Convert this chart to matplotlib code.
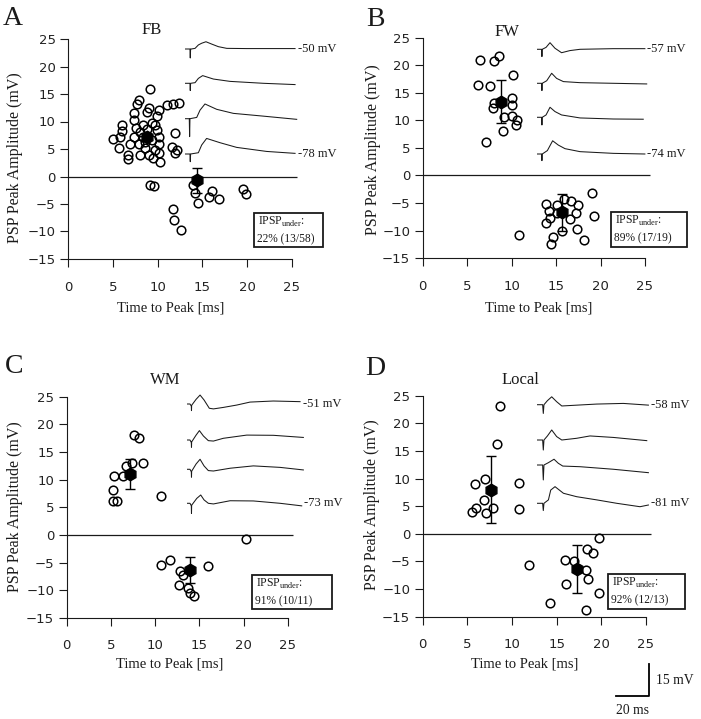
import matplotlib
matplotlib.use("Agg")
import matplotlib.pyplot as plt
from matplotlib.patches import Rectangle

W, H = 701, 719
SERIF = "Liberation Serif"
SANS = "DejaVu Sans"
INK = "#1a1a1a"
plt.rcParams["mathtext.fontset"] = "custom"
plt.rcParams["mathtext.rm"] = SERIF

# ── Scatter data: time to peak (ms) / PSP peak amplitude (mV) ─────────────

A_EPSP_T = [9.15, 7.92, 7.74, 9.08, 10.16, 11.0, 11.7, 12.4, 8.85, 7.37, 7.37, 9.9,
            6.06, 6.06, 8.33, 9.34, 5.8, 4.98, 7.37, 8.04, 8.85, 9.9, 10.16, 7.96,
            8.6, 9.34, 10.16, 5.73, 6.66, 6.73, 8.04, 8.6, 9.08, 9.71, 10.2, 10.27,
            9.52, 11.94, 11.57, 12.13, 11.94, 7.55, 6.92, 8.41, 9.71]
A_EPSP_A = [16.0, 13.9, 13.2, 12.4, 12.1, 13.0, 13.2, 13.3, 11.8, 11.5, 10.3, 11.0,
            9.4, 8.3, 9.4, 9.8, 7.2, 6.8, 7.2, 8.1, 8.6, 8.5, 7.2, 6.0,
            6.3, 6.6, 5.9, 5.1, 4.0, 3.2, 3.9, 5.1, 3.9, 4.8, 4.3, 2.7,
            3.3, 7.9, 5.4, 4.8, 4.2, 8.8, 6.0, 7.2, 9.4]
A_IPSP_T = [9.1, 9.6, 11.7, 11.8, 12.6, 14.0, 14.2, 14.5, 15.7, 16.1, 16.9, 19.5, 19.9]
A_IPSP_A = [-1.6, -1.7, -5.9, -7.9, -9.8, -1.5, -3.0, -4.8, -3.8, -2.6, -4.1, -2.3, -3.2]
A_MEAN_T = [8.8, 14.4]
A_MEAN_A = [7.1, -0.7]
A_MEAN_ERR = [0.5, 2.3]

B_EPSP_T = [6.4, 8.0, 8.6, 10.2, 6.2, 7.6, 8.0, 7.9, 10.1, 10.0, 9.1, 10.0, 10.6, 10.5, 9.0, 7.1]
B_EPSP_A = [20.9, 20.7, 21.7, 18.3, 16.5, 16.3, 13.2, 12.2, 14.1, 12.8, 10.6, 10.7, 10.0, 9.1, 8.1, 6.0]
B_IPSP_T = [13.83, 14.2, 14.3, 13.83, 15.07, 15.9, 16.7, 17.5, 17.2, 16.6, 15.1, 19.0,
            19.27, 17.4, 18.2, 15.7, 14.7, 14.4, 10.83]
B_IPSP_A = [-5.2, -6.4, -7.8, -8.7, -5.4, -4.3, -4.6, -5.4, -6.9, -7.9, -6.9, -3.1,
            -7.4, -9.7, -11.7, -10.0, -11.1, -12.4, -10.8]
B_MEAN_T = [8.8, 15.7]
B_MEAN_A = [13.4, -6.7]
B_MEAN_ERR = [3.9, 3.3]

C_EPSP_T = [7.6, 8.2, 6.7, 7.4, 8.6, 5.3, 6.4, 5.2, 5.2, 5.7, 10.7]
C_EPSP_A = [18.1, 17.5, 12.5, 13.0, 13.0, 10.6, 10.6, 8.1, 6.2, 6.1, 7.1]
C_IPSP_T = [10.6, 11.7, 12.8, 13.1, 12.7, 13.7, 13.9, 14.4, 16.0, 20.3]
C_IPSP_A = [-5.4, -4.5, -6.6, -7.2, -9.0, -9.6, -10.5, -11.0, -5.6, -0.7]
C_MEAN_T = [7.1, 13.9]
C_MEAN_A = [11.0, -6.3]
C_MEAN_ERR = [2.65, 2.35]

D_EPSP_T = [8.7, 8.3, 5.9, 7.0, 6.9, 6.0, 5.5, 7.1, 7.9, 10.8, 10.8]
D_EPSP_A = [23.1, 16.2, 9.0, 10.0, 6.1, 4.6, 4.0, 3.7, 4.7, 9.2, 4.5]
D_IPSP_T = [11.9, 15.9, 16.9, 18.4, 19.1, 19.7, 18.3, 18.5, 16.1, 19.7, 14.3, 18.3]
D_IPSP_A = [-5.6, -4.7, -4.9, -2.8, -3.4, -0.8, -6.5, -8.2, -9.0, -10.8, -12.5, -13.8]
D_MEAN_T = [7.6, 17.3]
D_MEAN_A = [8.0, -6.4]
D_MEAN_ERR = [6.1, 4.35]

LETTERS = ["A", "B", "C", "D"]
TITLES = ["FB", "FW", "WM", "Local"]
IPSP_SHARE = ["22% (13/58)", "89% (17/19)", "91% (10/11)", "92% (12/13)"]
TOP_MV = ["-50 mV", "-57 mV", "-51 mV", "-58 mV"]
BOTTOM_MV = ["-78 mV", "-74 mV", "-73 mV", "-81 mV"]

# ── Example traces: time (ms) / voltage relative to baseline (mV) ─────────

A_TR_T = [[0, 3.0, 3.2, 3.4, 3.8, 6.1, 8.1, 10.1, 12.7, 16.2, 20.2, 25.3, 37.4, 66.7],
          [0, 3.0, 3.2, 3.4, 6.1, 8.1, 10.7, 17.2, 27.3, 47.5, 66.7],
          [0, 2.6, 2.8, 3.0, 7.1, 9.1, 12.1, 19.2, 29.3, 47.5, 67.7],
          [0, 3.0, 3.2, 3.4, 8.1, 10.1, 13.1, 21.2, 31.3, 49.5, 66.7]]
A_TR_V = [[0, 0, -4.2, 0, 0, 0.3, 1.9, 2.7, 3.4, 2.3, 1.1, 0.3, 0.2, 0.2],
          [0, 0, -3.4, 0, 0.3, 2.3, 3.6, 2.0, 0.9, 0, -0.6],
          [0, 0, -8.4, 0, 0.6, 4.0, 6.9, 4.4, 2.5, 1.2, -0.3],
          [0, 0, -3.6, 0, 0.6, 4.2, 7.3, 5.3, 3.1, 1.2, 0.3]]

B_TR_T = [[0, 2.6, 2.8, 3.0, 5.3, 7.7, 10.7, 14.7, 19.8, 25.9, 46.1, 65.2],
          [0, 2.6, 2.8, 3.0, 5.7, 8.7, 11.7, 15.8, 25.9, 46.1, 66.3],
          [0, 2.6, 2.8, 3.0, 5.3, 7.7, 10.7, 14.7, 25.9, 46.1, 64.2],
          [0, 2.6, 2.8, 3.0, 6.1, 9.3, 12.7, 16.8, 25.9, 46.1, 65.2]]
B_TR_V = [[0, 0, -3.4, 0, 0.9, 3.1, 0.5, -1.6, -0.6, 0, 0.3, 0.3],
          [0, 0, -3.4, 0, 1.2, 4.7, 2.3, 0.8, 0.3, 0, -0.3],
          [0, 0, -3.6, 0, 1.1, 4.7, 2.7, 1.1, -0.3, -0.8, -0.9],
          [0, 0, -3.1, 0, 1.6, 6.2, 4.2, 2.5, 1.1, 0.3, 0]]

C_TR_T = [[0, 2.0, 2.8, 2.9, 3.0, 5.7, 8.1, 10.5, 13.7, 16.2, 22.2, 30.3, 38.4, 52.5, 68.7],
          [0, 2.0, 2.8, 2.9, 3.0, 5.7, 7.7, 10.1, 13.1, 16.2, 22.2, 36.4, 52.5, 70.7],
          [0, 2.0, 2.8, 2.9, 3.0, 5.7, 8.1, 10.5, 13.1, 16.2, 26.3, 40.4, 56.6, 70.7],
          [0, 2.0, 2.8, 2.9, 3.0, 6.1, 8.5, 10.5, 13.1, 16.2, 26.3, 40.4, 56.6, 69.7]]
C_TR_V = [[0, 0, -1.0, -3.1, -0.6, 2.2, 4.2, 1.9, -2.0, -2.3, -1.6, -0.5, 0.9, 1.4, 1.1],
          [0, 0, -1.2, -3.4, -0.9, 2.3, 4.4, 1.9, -0.3, -0.5, 0.8, 2.3, 2.2, 1.2],
          [0, 0, -1.2, -3.7, -0.9, 2.5, 4.7, 1.6, -0.6, -0.8, 0.5, 1.6, 0.9, -0.3],
          [0, 0, -1.2, -4.7, -0.9, 2.3, 3.9, 1.6, 0, -0.3, 1.2, 1.1, 0, -1.2]]

D_TR_T = [[0, 3.6, 4.0, 4.4, 6.5, 9.1, 12.1, 15.2, 22.2, 36.4, 52.5, 67.7],
          [0, 3.6, 4.0, 4.4, 6.5, 9.1, 12.1, 15.2, 24.2, 32.3, 46.5, 66.7],
          [0, 3.6, 4.0, 4.4, 7.1, 10.5, 13.1, 15.8, 26.3, 46.5, 67.7],
          [0, 3.6, 4.0, 4.4, 7.1, 8.5, 11.1, 16.2, 24.2, 36.4, 48.5, 62.6, 67.7]]
D_TR_V = [[0, 0, -4.1, 0, 1.9, 3.7, 1.4, -0.6, -0.3, 0.3, 0.6, -0.2],
          [0, 0, -4.7, 0, 1.9, 4.7, 1.6, 0, 0.8, 1.9, 1.2, -0.3],
          [0, 0, -7.0, 0, 1.1, 2.7, 0.8, -0.5, -0.8, -2.0, -3.6],
          [0, 0, -3.4, 0, 1.6, 6.2, 7.8, 4.7, 3.1, 1.6, 0, -1.6, -0.8]]

SCALE_MS = 20
SCALE_MV = 15

# ── Layout (pixels) ───────────────────────────────────────────────────────
# axes: left of x=0, top at y=25, px per ms, px per mV
AX_LAYOUT = [(68, 39, 8.96, 5.5), (422.7, 37.7, 8.89, 5.51),
             (66.7, 396.7, 8.85, 5.53), (422.7, 395.7, 8.93, 5.525)]
TRACE_LEFT = [185, 537.3, 186.7, 536.7]
TRACE_BASE = [[49, 83.3, 118.7, 154], [49.3, 83.3, 117.3, 154],
              [404, 440, 469.3, 503.3], [404.7, 440, 465, 503.3]]
BOX_RECT = [(254, 213, 69, 34), (611, 212, 76, 35), (252, 575, 80, 34), (608, 574, 77, 35)]
LETTER_POS = [(3, 25), (366, 26), (5, 373), (365, 375)]
TITLE_POS = [(152, 30), (507, 32), (165, 380), (520, 380)]
XLABEL_POS = [(171, 308), (539, 308), (170, 664), (525, 664)]
YLABEL_POS = [(15, 158), (373, 150), (15, 507), (372, 505)]
PX_PER_MS = 33 / 20    # from the 20 ms scale bar
PX_PER_MV = 32 / 15    # from the 15 mV scale bar


def fx(x):
    return x / W


def fy(y):
    return 1 - y / H


def px_axes(fig, left, top, w, h):
    """Axes in ms/mV with y measured downward from its top edge."""
    ax = fig.add_axes([fx(left), fy(top + h), w / W, h / H])
    ax.set_xlim(0, w / PX_PER_MS)
    ax.set_ylim(-h / PX_PER_MV, 0)
    ax.set_axis_off()
    return ax


def draw_panel(fig, i, epsp_t, epsp_a, ipsp_t, ipsp_a, mean_t, mean_a, mean_err, tr_t, tr_v):
    left, top, sx, sy = AX_LAYOUT[i]
    ax = fig.add_axes([fx(left), fy(top + 40 * sy), 27 * sx / W, 40 * sy / H])
    ax.set_xlim(0, 27)
    ax.set_ylim(-15, 25)
    for s in ["top", "right"]:
        ax.spines[s].set_visible(False)
    for s in ["left", "bottom"]:
        ax.spines[s].set_linewidth(0.8)
        ax.spines[s].set_color(INK)
    ax.spines["bottom"].set_bounds(0, 25)
    ax.set_xticks(range(0, 26, 5))
    ax.set_yticks(range(-15, 26, 5))
    ax.tick_params(axis="both", direction="out", length=5.5, width=0.8, color=INK,
                   labelsize=9.5, labelcolor="#222222")
    ax.tick_params(axis="x", pad=10)
    ax.tick_params(axis="y", pad=3.5)
    for lab in ax.get_xticklabels() + ax.get_yticklabels():
        lab.set_fontfamily(SANS)
    ax.hlines(0, 0, 25.6, color=INK, lw=0.9)

    ax.errorbar(mean_t, mean_a, yerr=mean_err, fmt="none", ecolor="black",
                elinewidth=1.0, capsize=3.5, capthick=1.0, zorder=2)
    ax.plot(epsp_t + ipsp_t, epsp_a + ipsp_a, "o", ms=6.2, mfc="none",
            mec="black", mew=1.1, zorder=3)
    ax.plot(mean_t, mean_a, "h", ms=9, color="black", zorder=4)

    # example traces
    tl = TRACE_LEFT[i]
    ttop = TRACE_BASE[i][0] - 20
    tax = px_axes(fig, tl, ttop, 150, TRACE_BASE[i][-1] - ttop + 25)
    for k, (t, v) in enumerate(zip(tr_t, tr_v)):
        off = -(TRACE_BASE[i][k] - ttop) / PX_PER_MV
        tax.plot(t, [vv + off for vv in v], color=INK, lw=0.75)
        if k in (0, 3):
            tax.text(t[-1] + 1.5, off, TOP_MV[i] if k == 0 else BOTTOM_MV[i],
                     fontfamily=SERIF, fontsize=9, ha="left", va="center", color=INK)

    # IPSP share box
    bx, by, bw, bh = BOX_RECT[i]
    fig.patches.append(Rectangle((fx(bx), fy(by + bh)), bw / W, bh / H, transform=fig.transFigure,
                                 fill=False, edgecolor=INK, lw=1.3))
    fig.text(fx(bx + 4), fy(by + 9), r"IPSP$_{\rm under}$:", fontfamily=SERIF, fontsize=8.5,
             ha="left", va="center", color=INK)
    fig.text(fx(bx + 3), fy(by + 26), IPSP_SHARE[i], fontfamily=SERIF, fontsize=8.3,
             ha="left", va="center", color=INK)

    lx, ly = LETTER_POS[i]
    fig.text(fx(lx), fy(ly), LETTERS[i], fontfamily=SERIF, fontsize=20, ha="left",
             va="baseline", color=INK)
    tx, ty = TITLE_POS[i]
    fig.text(fx(tx), fy(ty), TITLES[i], fontfamily=SERIF, fontsize=12, ha="center",
             va="center", color=INK)
    xx, xy = XLABEL_POS[i]
    fig.text(fx(xx), fy(xy), "Time to Peak [ms]", fontfamily=SERIF, fontsize=10.5,
             ha="center", va="center", color=INK)
    yx, yy = YLABEL_POS[i]
    fig.text(fx(yx), fy(yy), "PSP Peak Amplitude (mV)", fontfamily=SERIF, fontsize=11.5,
             rotation=90, ha="center", va="center", color=INK)


def main():
    fig = plt.figure(figsize=(W / 100, H / 100), dpi=100)
    fig.patch.set_facecolor("white")

    draw_panel(fig, 0, A_EPSP_T, A_EPSP_A, A_IPSP_T, A_IPSP_A, A_MEAN_T, A_MEAN_A, A_MEAN_ERR,
               A_TR_T, A_TR_V)
    draw_panel(fig, 1, B_EPSP_T, B_EPSP_A, B_IPSP_T, B_IPSP_A, B_MEAN_T, B_MEAN_A, B_MEAN_ERR,
               B_TR_T, B_TR_V)
    draw_panel(fig, 2, C_EPSP_T, C_EPSP_A, C_IPSP_T, C_IPSP_A, C_MEAN_T, C_MEAN_A, C_MEAN_ERR,
               C_TR_T, C_TR_V)
    draw_panel(fig, 3, D_EPSP_T, D_EPSP_A, D_IPSP_T, D_IPSP_A, D_MEAN_T, D_MEAN_A, D_MEAN_ERR,
               D_TR_T, D_TR_V)

    # scale bar
    sax = px_axes(fig, 610, 655, 80, 64)
    x0 = 6 / PX_PER_MS
    y0 = -41 / PX_PER_MV
    sax.plot([x0, x0 + SCALE_MS, x0 + SCALE_MS], [y0, y0, y0 + SCALE_MV], color="black", lw=1.3)
    sax.text(x0 + SCALE_MS + 4, y0 + SCALE_MV / 2, f"{SCALE_MV} mV", fontfamily=SERIF,
             fontsize=9.8, ha="left", va="center", color=INK)
    sax.text(x0 + SCALE_MS / 2, y0 - 7, f"{SCALE_MS} ms", fontfamily=SERIF,
             fontsize=9.8, ha="center", va="center", color=INK)

    fig.savefig("out.png", dpi=100, facecolor="white")


if __name__ == "__main__":
    main()
